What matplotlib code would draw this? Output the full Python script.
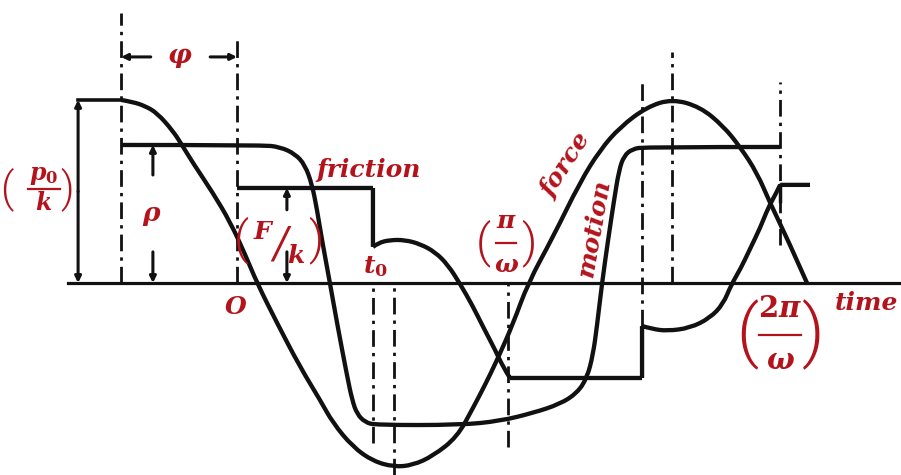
import math
import matplotlib
matplotlib.use("Agg")
import matplotlib.pyplot as plt
from matplotlib.path import Path
from matplotlib.patches import PathPatch

plt.rcParams["mathtext.fontset"] = "custom"
plt.rcParams["mathtext.it"] = "DejaVu Serif:italic:bold"
plt.rcParams["mathtext.rm"] = "DejaVu Serif:bold"
plt.rcParams["mathtext.bf"] = "DejaVu Serif:bold"

# time in units of pi/omega (O = 0), displacement in units of p0/k
P0 = 1.0        # force amplitude p0/k
RHO = 0.754     # motion amplitude rho
F_K = 0.519     # friction level F/k
PHI = 0.423     # phase lag phi
T0 = 0.496      # stop instant t0

force_t = [-0.423, -0.380, -0.336, -0.292, -0.234, -0.201, -0.161, -0.088, -0.025,
           0.029, 0.073, 0.146, 0.230, 0.303, 0.350, 0.423, 0.496, 0.573, 0.642,
           0.715, 0.803, 0.861, 0.905, 0.949, 1.007, 1.062, 1.153, 1.252, 1.325,
           1.398, 1.496, 1.588, 1.690, 1.774, 1.836, 1.898, 1.945, 2.007, 2.080]
force_y = [1.000, 0.989, 0.967, 0.929, 0.831, 0.754, 0.656, 0.492, 0.333,
           0.158, 0.000, -0.219, -0.459, -0.639, -0.765, -0.896, -0.973, -1.005, -0.995,
           -0.945, -0.842, -0.683, -0.557, -0.421, -0.224, 0.000, 0.251, 0.552, 0.727,
           0.852, 0.962, 1.005, 0.962, 0.858, 0.743, 0.601, 0.437, 0.246, 0.000]

motion_t = [-0.423, 0.091, 0.157, 0.212, 0.248, 0.274, 0.292, 0.310, 0.339, 0.365,
            0.401, 0.420, 0.438, 0.467, 0.504, 0.814, 0.960, 1.080, 1.179, 1.241,
            1.277, 1.299, 1.314, 1.332, 1.354, 1.376, 1.394, 1.412, 1.442, 1.489, 1.982]
motion_y = [0.754, 0.754, 0.743, 0.705, 0.645, 0.536, 0.399, 0.235, 0.000, -0.219,
            -0.503, -0.639, -0.716, -0.760, -0.776, -0.776, -0.754, -0.710, -0.661, -0.601,
            -0.519, -0.393, -0.230, 0.000, 0.235, 0.454, 0.617, 0.694, 0.732, 0.743, 0.743]

friction_t = [0.000, 0.496, 0.496, 0.515, 0.558, 0.613, 0.668, 0.723, 0.770, 0.814,
              0.858, 0.898, 0.942, 0.971, 0.996, 1.478, 1.478, 1.515, 1.569, 1.653,
              1.726, 1.774, 1.803, 1.839, 1.872, 1.909, 1.938, 1.964, 1.982, 2.091]
friction_y = [0.519, 0.519, 0.197, 0.219, 0.235, 0.235, 0.213, 0.169, 0.098, -0.005,
              -0.120, -0.240, -0.366, -0.459, -0.519, -0.519, -0.235, -0.251, -0.262, -0.246,
              -0.191, -0.115, -0.011, 0.082, 0.186, 0.301, 0.410, 0.481, 0.536, 0.536]

# dash-dot construction lines: time, upper end, lower end
guide_t = [-0.423, 0.000, 0.496, 0.573, 0.989, 1.478, 1.588, 1.982]
guide_top = [1.475, 1.339, 0.000, 0.000, 0.000, 1.109, 1.262, 1.098]
guide_bottom = [0.000, 0.000, -0.874, -1.049, -0.896, -0.235, 0.000, 0.208]

RED = "#B3141C"
INK = "#111111"
PX_T = 1 / 274.0   # one pixel along the time axis
PX_Y = 1 / 183.0   # one pixel along the displacement axis

fig = plt.figure(figsize=(9.01, 4.75), dpi=100)
ax = fig.add_axes([0, 0, 1, 1])
ax.set_xlim(-0.865, 2.423)
ax.set_ylim(-1.049, 1.546)
ax.axis("off")


def split_at_corners(xs, ys, max_turn=55.0):
    """Split a polyline wherever its direction turns sharply (in screen space)."""
    pix = ax.transData.transform(list(zip(xs, ys)))
    pieces, start = [], 0
    for i in range(1, len(xs) - 1):
        a = math.atan2(pix[i][1] - pix[i - 1][1], pix[i][0] - pix[i - 1][0])
        b = math.atan2(pix[i + 1][1] - pix[i][1], pix[i + 1][0] - pix[i][0])
        turn = abs((math.degrees(b - a) + 180) % 360 - 180)
        if turn > max_turn:
            pieces.append(list(zip(xs[start:i + 1], ys[start:i + 1])))
            start = i
    pieces.append(list(zip(xs[start:], ys[start:])))
    return pieces


def smooth_curve(xs, ys, lw=3.1):
    """Draw the polyline as chained quadratic Beziers, keeping sharp corners."""
    verts, codes = [], []
    for pts in split_at_corners(xs, ys):
        verts.append(pts[0])
        codes.append(Path.MOVETO)
        if len(pts) == 2:
            verts.append(pts[1])
            codes.append(Path.LINETO)
            continue
        for i in range(1, len(pts) - 1):
            if i == len(pts) - 2:
                end = pts[-1]
            else:
                end = ((pts[i][0] + pts[i + 1][0]) / 2, (pts[i][1] + pts[i + 1][1]) / 2)
            verts += [pts[i], end]
            codes += [Path.CURVE3, Path.CURVE3]
    ax.add_patch(PathPatch(Path(verts, codes), fill=False, edgecolor=INK, lw=lw,
                           joinstyle="round", capstyle="butt"))


# time axis
ax.plot([-0.617, 2.45], [0, 0], color=INK, lw=2.3)

# construction lines
for t, top, bot in zip(guide_t, guide_top, guide_bottom):
    ax.plot([t, t], [bot, top], color=INK, lw=2.0, dashes=(6, 2.2, 1.2, 2.2))

# curves
smooth_curve(force_t, force_y)
smooth_curve(motion_t, motion_y)
smooth_curve(friction_t, friction_y)
ax.plot([friction_t[-2], friction_t[-2]], [friction_y[-2], 0.45], color=INK, lw=2.5)

arrow_kw = dict(arrowstyle="-|>", color=INK, lw=2.2, mutation_scale=9,
                shrinkA=0, shrinkB=0)


def dim_arrow(x0, y0, x1, y1):
    ax.annotate("", xy=(x1, y1), xytext=(x0, y0), arrowprops=arrow_kw)


# p0/k dimension
x_p = -0.580
ax.plot([x_p, -PHI], [P0, P0], color=INK, lw=2.6)
dim_arrow(x_p, 0.5, x_p, P0)
dim_arrow(x_p, 0.5, x_p, 0.0)

# rho dimension
x_r = -0.307
dim_arrow(x_r, 0.59, x_r, RHO)
dim_arrow(x_r, 0.17, x_r, 0.0)

# F/k dimension
x_f = 0.182
dim_arrow(x_f, 0.40, x_f, F_K)
dim_arrow(x_f, 0.17, x_f, 0.0)

# phi dimension
y_phi = 1.235
dim_arrow(-0.315, y_phi, -PHI, y_phi)
dim_arrow(-0.098, y_phi, 0.0, y_phi)

word = dict(color=RED, fontsize=18, fontfamily="DejaVu Serif", fontstyle="italic",
            fontweight="bold", ha="center", va="center")
math_kw = dict(color=RED, ha="center", va="center")
paren_kw = dict(color=RED, ha="center", va="center", fontfamily="Roboto",
                fontweight=300)


def parens(xc, yc, half_px, size):
    ax.text(xc - half_px * PX_T, yc, "(", fontsize=size, **paren_kw)
    ax.text(xc + half_px * PX_T, yc, ")", fontsize=size, **paren_kw)


def stacked(xc, yc, num, den, size, gap_px, bar_px, half_px, paren_size, shift_px=0):
    """Numerator over denominator with a rule, wrapped in tall parentheses."""
    bx = xc + shift_px * PX_T
    ax.text(bx, yc + gap_px * PX_Y, num, fontsize=size, **math_kw)
    ax.text(bx, yc - gap_px * PX_Y, den, fontsize=size, **math_kw)
    ax.plot([bx - bar_px * PX_T, bx + bar_px * PX_T], [yc, yc], color=RED, lw=1.6)
    parens(xc, yc, half_px, paren_size)


ax.text(-0.208, 1.235, r"$\varphi$", fontsize=19, **math_kw)
stacked(-0.730, 0.514, r"$p_0$", r"$k$", 17, 14, 16, 30, 30, shift_px=7)
ax.text(-0.310, 0.372, r"$\rho$", fontsize=19, **math_kw)
ax.text(0.482, 0.617, "friction", **word)

# (F/k) written as a slanted fraction
ax.text(0.099, 0.279, r"$F$", fontsize=18, **math_kw)
ax.text(0.158, 0.210, "/", fontsize=30, color=RED, ha="center", va="center",
        fontfamily="DejaVu Serif", fontstyle="italic")
ax.text(0.215, 0.150, r"$k$", fontsize=18, **math_kw)
parens(0.151, 0.235, 37, 34)

ax.text(-0.005, -0.13, r"$O$", fontsize=18, **math_kw)
ax.text(0.504, 0.09, r"$t_0$", fontsize=18, **math_kw)
stacked(0.982, 0.219, r"$\pi$", r"$\omega$", 18, 22, 10, 23, 34)
ax.text(1.201, 0.641, "force", rotation=57, **word)
ax.text(1.303, 0.30, "motion", rotation=80, **word)
stacked(1.982, -0.284, r"$2\pi$", r"$\omega$", 21, 26, 21, 33, 50)
ax.text(2.296, -0.112, "time", **word)

fig.savefig("out.png", dpi=100, facecolor="white")
